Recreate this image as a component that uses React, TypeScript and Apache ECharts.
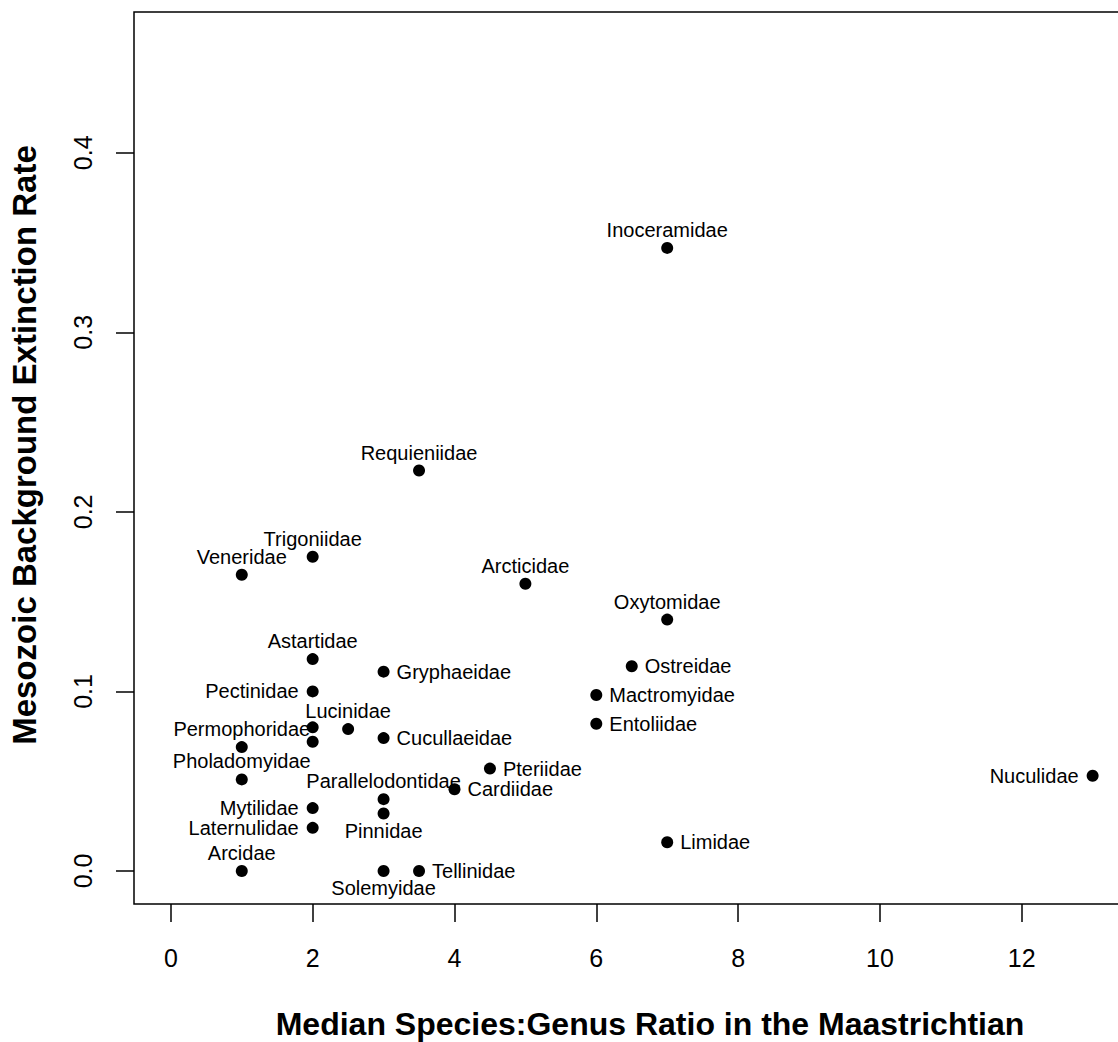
import React, { useEffect, useRef } from "react";
import * as echarts from "echarts";

// Families (two points at x=2 carry no visible label)
const families = [
  "Inoceramidae", "Requieniidae", "Trigoniidae", "Veneridae", "Arcticidae",
  "Oxytomidae", "Astartidae", "Ostreidae", "Gryphaeidae", "Pectinidae",
  "Mactromyidae", "Entoliidae", "", "Lucinidae", "Cucullaeidae",
  "", "Permophoridae", "Pteriidae", "Nuculidae", "Pholadomyidae",
  "Cardiidae", "Parallelodontidae", "Mytilidae", "Pinnidae", "Laternulidae",
  "Limidae", "Arcidae", "Solemyidae", "Tellinidae",
];

const speciesGenusRatio = [
  7, 3.5, 2, 1, 5,
  7, 2, 6.5, 3, 2,
  6, 6, 2, 2.5, 3,
  2, 1, 4.5, 13, 1,
  4, 3, 2, 3, 2,
  7, 1, 3, 3.5,
];

const extinctionRate = [
  0.347, 0.223, 0.175, 0.165, 0.160,
  0.140, 0.118, 0.114, 0.111, 0.100,
  0.098, 0.082, 0.080, 0.079, 0.074,
  0.072, 0.069, 0.057, 0.053, 0.051,
  0.0455, 0.040, 0.035, 0.032, 0.024,
  0.016, 0, 0, 0,
];

// Label side (like R's text pos): top / right / left / bottom / none
const labelSide = [
  "top", "top", "top", "top", "top",
  "top", "top", "right", "right", "left",
  "right", "right", "none", "top", "right",
  "none", "top", "right", "left", "top",
  "right", "top", "left", "bottom", "left",
  "right", "top", "bottom", "right",
];

const xTicks = [0, 2, 4, 6, 8, 10, 12];
const yTicks = [0, 0.1, 0.2, 0.3, 0.4];

const xTitle = "Median Species:Genus Ratio in the Maastrichtian";
const yTitle = "Mesozoic Background Extinction Rate";

const FONT = "'Liberation Sans', Arial, Helvetica, sans-serif";

export default function App() {
  const ref = useRef<HTMLDivElement>(null);

  useEffect(() => {
    if (!ref.current) return;
    const chart = echarts.init(ref.current, null, { renderer: "svg" });
    const distances: Record<string, number> = { top: 2, bottom: 1, left: 8, right: 7 };
    const data = families.map((name, i) => {
      const side = labelSide[i];
      return {
        name,
        value: [speciesGenusRatio[i], extinctionRate[i]],
        label:
          side === "none"
            ? { show: false }
            : { show: true, position: side, distance: distances[side] },
      };
    });

    chart.setOption({
      animation: false,
      backgroundColor: "#ffffff",
      textStyle: { fontFamily: FONT },
      grid: {
        show: true,
        left: 134,
        top: 12,
        width: 995.5,
        height: 892,
        borderColor: "#000000",
        borderWidth: 1.5,
        backgroundColor: "transparent",
      },
      graphic: [
        {
          type: "text",
          x: 650,
          y: 1024,
          style: {
            text: xTitle,
            fontSize: 32,
            fontWeight: "bold",
            fontFamily: FONT,
            fill: "#000",
            textAlign: "center",
            textVerticalAlign: "middle",
          },
        },
        {
          type: "text",
          x: 24,
          y: 445,
          rotation: Math.PI / 2,
          style: {
            text: yTitle,
            fontSize: 33,
            fontWeight: "bold",
            fontFamily: FONT,
            fill: "#000",
            textAlign: "center",
            textVerticalAlign: "middle",
          },
        },
      ],
      xAxis: {
        type: "value",
        min: -0.52,
        max: 13.52,
        axisLine: { show: false, onZero: false },
        splitLine: { show: false },
        axisTick: {
          show: true,
          length: 18,
          lineStyle: { color: "#000", width: 1.5 },
          customValues: xTicks,
        },
        axisLabel: {
          show: true,
          margin: 41,
          fontSize: 25,
          color: "#000",
          fontFamily: FONT,
          customValues: xTicks,
          formatter: (v: number) => String(v),
        },
      },
      yAxis: {
        type: "value",
        min: -0.0184,
        max: 0.4784,
        axisLine: { show: false, onZero: false },
        splitLine: { show: false },
        axisTick: {
          show: true,
          length: 18,
          lineStyle: { color: "#000", width: 1.5 },
          customValues: yTicks,
        },
        axisLabel: {
          show: true,
          rotate: 90,
          margin: 39,
          fontSize: 25,
          color: "#000",
          fontFamily: FONT,
          customValues: yTicks,
          formatter: (v: number) => v.toFixed(1),
        },
      },
      series: [
        {
          type: "scatter",
          symbol: "circle",
          symbolSize: 12,
          itemStyle: { color: "#000000", opacity: 1 },
          label: {
            show: true,
            formatter: "{b}",
            fontSize: 20,
            color: "#000",
            fontFamily: FONT,
          },
          labelLayout: { hideOverlap: false },
          data,
        },
      ],
    });

    return () => chart.dispose();
  }, []);

  return (
    <div
      style={{
        position: "fixed",
        left: 0,
        top: 0,
        width: 1118,
        height: 1042,
        overflow: "hidden",
        background: "#fff",
      }}
    >
      <div ref={ref} style={{ width: 1140, height: 1042 }} />
    </div>
  );
}
